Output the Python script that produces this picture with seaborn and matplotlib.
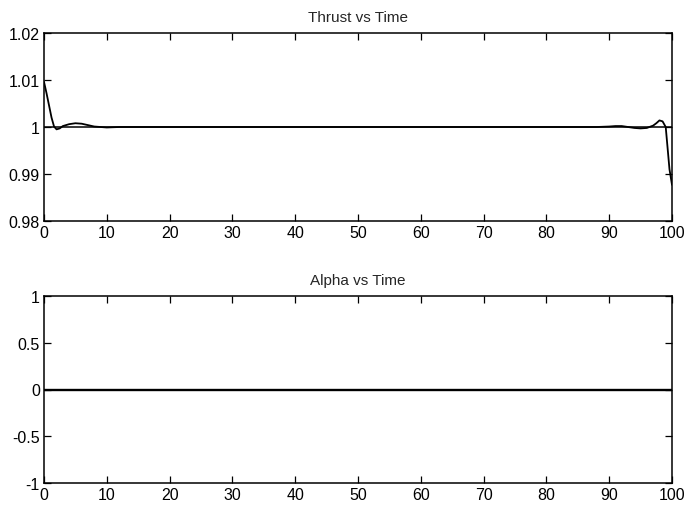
import numpy as np
import pandas as pd
import matplotlib
matplotlib.use("Agg")
import matplotlib.pyplot as plt
import seaborn as sns

# Data
time_thrust = [0, 0.4, 0.8, 1.2, 1.6, 2.0, 2.5, 3.0, 4.0, 5.0, 6.0, 7.0, 8.0, 9.0, 10, 12, 15, 20,
               30, 50, 70, 85, 88, 90, 91, 92, 93, 94, 95, 96, 97, 97.5, 98, 98.5, 99,
               99.3, 99.6, 100]
thrust = [1.0096, 1.0072, 1.0046, 1.0020, 1.0001, 0.9995, 0.9997, 1.0002, 1.0006, 1.0008, 1.0007, 1.0004,
          1.0001, 1.0000, 0.9999, 1.0000, 1.0000, 1.0000,
          1.0000, 1.0000, 1.0000, 1.0000, 1.0000, 1.0001, 1.0002, 1.0002, 1.0000, 0.9998, 0.9997,
          0.9998, 1.0003, 1.0008, 1.0014, 1.0012, 1.0000,
          0.9955, 0.9910, 0.9877]
time_ref = [0, 100]
thrust_ref = [1.0, 1.0]
time_alpha = [0, 25, 50, 75, 100]
alpha = [0, 0, 0, 0, 0]

xticks = [0, 10, 20, 30, 40, 50, 60, 70, 80, 90, 100]
yticks_top = [0.98, 0.99, 1.0, 1.01, 1.02]
ytick_labels_top = ["0.98", "0.99", "1", "1.01", "1.02"]
yticks_bot = [-1, -0.5, 0, 0.5, 1]
ytick_labels_bot = ["-1", "-0.5", "0", "0.5", "1"]

sns.set_style("ticks")
plt.rcParams["font.family"] = ["Liberation Sans", "DejaVu Sans"]
plt.rcParams["xtick.direction"] = "in"
plt.rcParams["ytick.direction"] = "in"

fig = plt.figure(figsize=(6.86, 5.06), dpi=100)
W, H = 686, 506
ax1 = fig.add_axes([44 / W, 1 - 222 / H, (672 - 44) / W, (222 - 34) / H])
ax2 = fig.add_axes([44 / W, 1 - 484 / H, (672 - 44) / W, (484 - 297) / H])

df_t = pd.DataFrame({"t": time_thrust, "v": thrust})
df_r = pd.DataFrame({"t": time_ref, "v": thrust_ref})
df_a = pd.DataFrame({"t": time_alpha, "v": alpha})

sns.lineplot(data=df_r, x="t", y="v", ax=ax1, color="black", linewidth=1.1)
sns.lineplot(data=df_t, x="t", y="v", ax=ax1, color="black", linewidth=1.3)
sns.lineplot(data=df_a, x="t", y="v", ax=ax2, color="black", linewidth=1.7)

for ax, yt, yl, ttl, ylim in [
    (ax1, yticks_top, ytick_labels_top, "Thrust vs Time", (0.98, 1.02)),
    (ax2, yticks_bot, ytick_labels_bot, "Alpha vs Time", (-1, 1)),
]:
    ax.set_xlim(0, 100)
    ax.set_ylim(*ylim)
    ax.set_xticks(xticks)
    ax.set_xticklabels([str(x) for x in xticks])
    ax.set_yticks(yt)
    ax.set_yticklabels(yl)
    ax.set_xlabel("")
    ax.set_ylabel("")
    ax.set_title(ttl, fontsize=11, pad=9)
    ax.tick_params(axis="both", which="both", direction="in", top=True, right=True,
                   length=5, width=0.9, labelsize=11.5, pad=3, colors="black")
    for s in ax.spines.values():
        s.set_visible(True)
        s.set_linewidth(1.1)
        s.set_color("black")

fig.savefig("out.png", dpi=100)
